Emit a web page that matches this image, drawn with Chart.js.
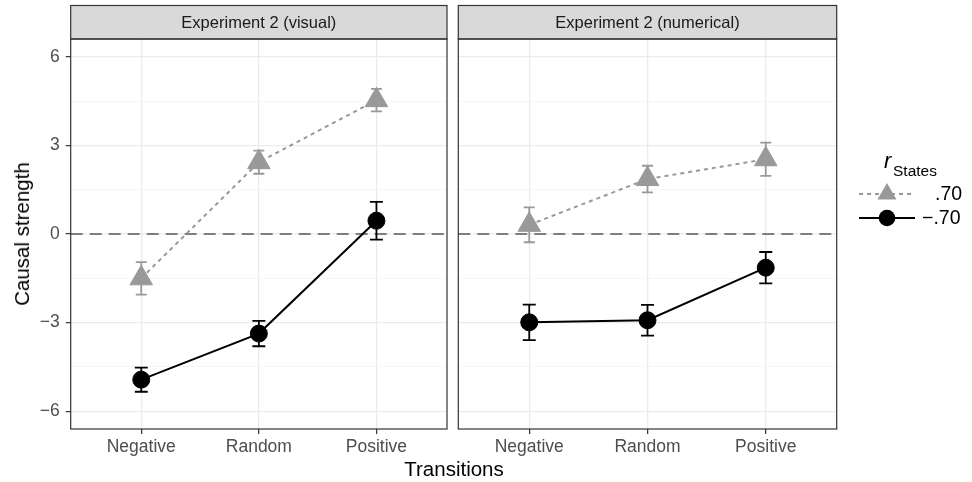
<!DOCTYPE html>
<html>
<head>
<meta charset="utf-8">
<script src="https://cdn.jsdelivr.net/npm/chart.js@4.4.1/dist/chart.umd.min.js"></script>
<style>
  body { margin: 0; background: #fff; font-family: "Liberation Sans", Arial, sans-serif; }
  #wrap { position: relative; width: 972px; height: 482px; overflow: hidden; }
  .box { position: absolute; top: 0; height: 482px; }
  #leftBox { left: 0; width: 452px; }
  #rightBox { left: 452px; width: 520px; }
  #xTitle { position: absolute; left: 354px; width: 200px; top: 457px; text-align: center; font-size: 20.5px; color: #000; }
  #yTitle { position: absolute; left: 22px; top: 234px; transform: translate(-50%, -50%) rotate(-90deg); font-size: 20.5px; color: #000; white-space: nowrap; }
</style>
</head>
<body>
<div id="wrap">
  <div class="box" id="leftBox"><canvas id="visualChart"></canvas></div>
  <div class="box" id="rightBox"><canvas id="numericalChart"></canvas></div>
  <div id="xTitle">Transitions</div>
  <div id="yTitle">Causal strength</div>
</div>
<script>
// categories and panels
const transitions = ['Negative', 'Random', 'Positive'];
const panelTitles = ['Experiment 2 (visual)', 'Experiment 2 (numerical)'];
const seriesLabels = ['.70', '\u2212.70'];

// Experiment 2 (visual)
const visualPos = [-1.50, 2.43, 4.53];
const visualPosErr = [0.55, 0.39, 0.38];
const visualNeg = [-4.93, -3.37, 0.45];
const visualNegErr = [0.41, 0.43, 0.64];

// Experiment 2 (numerical)
const numericalPos = [0.31, 1.86, 2.53];
const numericalPosErr = [0.59, 0.45, 0.56];
const numericalNeg = [-2.99, -2.92, -1.14];
const numericalNegErr = [0.60, 0.52, 0.53];

// axis ticks
const yMajor = [-6, -3, 0, 3, 6];
const yMinor = [-4.5, -1.5, 1.5, 4.5];

const GRAY = '#999999';
const BLACK = '#000000';
const FONT = '"Liberation Sans", Arial, sans-serif';

function toPoints(values) {
    return values.map((v, i) => ({ x: i, y: v }));
}

// zero line + error bars, under the lines and points
const errorBars = {
    id: 'errorBars',
    beforeDatasetsDraw(chart) {
        const { ctx, scales: { x, y }, chartArea } = chart;
        ctx.save();
        ctx.strokeStyle = '#7f7f7f';
        ctx.lineWidth = 1.8;
        ctx.setLineDash([12, 7]);
        const y0 = y.getPixelForValue(0);
        ctx.beginPath();
        ctx.moveTo(chartArea.left, y0);
        ctx.lineTo(chartArea.right, y0);
        ctx.stroke();
        ctx.setLineDash([]);
        chart.data.datasets.forEach(ds => {
            ctx.strokeStyle = ds.borderColor;
            ctx.lineWidth = 1.8;
            ds.data.forEach((p, i) => {
                const e = ds.errors[i];
                const px = x.getPixelForValue(p.x);
                const top = y.getPixelForValue(p.y + e);
                const bot = y.getPixelForValue(p.y - e);
                const cap = ds.capWidth;
                ctx.beginPath();
                ctx.moveTo(px, top); ctx.lineTo(px, bot);
                ctx.moveTo(px - cap, top); ctx.lineTo(px + cap, top);
                ctx.moveTo(px - cap, bot); ctx.lineTo(px + cap, bot);
                ctx.stroke();
            });
        });
        ctx.restore();
    }
};

// facet strip and panel border
const panelFrame = {
    id: 'panelFrame',
    afterDraw(chart, args, opts) {
        const { ctx, chartArea: a } = chart;
        ctx.save();
        const stripTop = 5.5;
        ctx.fillStyle = '#d9d9d9';
        ctx.fillRect(a.left, stripTop, a.right - a.left, a.top - stripTop);
        ctx.strokeStyle = '#333333';
        ctx.lineWidth = 1.2;
        ctx.strokeRect(a.left, stripTop, a.right - a.left, a.top - stripTop);
        ctx.strokeRect(a.left, a.top, a.right - a.left, a.bottom - a.top);
        ctx.fillStyle = '#1a1a1a';
        ctx.font = '16.5px ' + FONT;
        ctx.textAlign = 'center';
        ctx.textBaseline = 'middle';
        ctx.fillText(opts.title, (a.left + a.right) / 2, (stripTop + a.top) / 2 + 1);
        ctx.restore();
    }
};

// legend on the right
const stateLegend = {
    id: 'stateLegend',
    afterDraw(chart, args, opts) {
        if (!opts.show) return;
        const ctx = chart.ctx;
        const ox = -452;
        ctx.save();
        ctx.fillStyle = '#000';
        ctx.textBaseline = 'alphabetic';
        ctx.textAlign = 'left';
        ctx.font = 'italic 22px ' + FONT;
        ctx.fillText('r', 884 + ox, 168);
        ctx.font = '15.5px ' + FONT;
        ctx.fillText('States', 893 + ox, 176);
        const rows = [
            { y: 194, color: GRAY, dash: [4, 4], style: 'triangle', r: 11, label: seriesLabels[0], tx: 935 },
            { y: 218, color: BLACK, dash: [], style: 'circle', r: 8.3, label: seriesLabels[1], tx: 922 }
        ];
        rows.forEach(row => {
            ctx.strokeStyle = row.color;
            ctx.lineWidth = 2;
            ctx.setLineDash(row.dash);
            ctx.beginPath();
            ctx.moveTo(859 + ox, row.y);
            ctx.lineTo(915 + ox, row.y);
            ctx.stroke();
            ctx.setLineDash([]);
            ctx.fillStyle = row.color;
            Chart.helpers.drawPoint(ctx, { pointStyle: row.style, radius: row.r, borderWidth: 0 }, 887 + ox, row.y);
            ctx.fillStyle = '#000';
            ctx.font = '19.5px ' + FONT;
            ctx.textBaseline = 'middle';
            ctx.fillText(row.label, row.tx + ox, row.y + 1);
        });
        ctx.restore();
    }
};

function makeChart(canvasId, title, posVals, posErr, negVals, negErr, isLeft) {
    const ctx = document.getElementById(canvasId);
    return new Chart(ctx, {
        type: 'line',
        data: {
            datasets: [{
                label: seriesLabels[0],
                data: toPoints(posVals),
                errors: posErr,
                capWidth: 5.5,
                borderColor: GRAY,
                borderWidth: 2,
                borderDash: [4, 4],
                pointStyle: 'triangle',
                pointRadius: 13,
                pointBackgroundColor: GRAY,
                pointBorderColor: GRAY,
                pointBorderWidth: 1,
                tension: 0
            }, {
                label: seriesLabels[1],
                data: toPoints(negVals),
                errors: negErr,
                capWidth: 6.5,
                borderColor: BLACK,
                borderWidth: 2,
                pointStyle: 'circle',
                pointRadius: 8.5,
                pointBackgroundColor: BLACK,
                pointBorderColor: BLACK,
                pointBorderWidth: 1,
                tension: 0
            }]
        },
        options: {
            responsive: true,
            maintainAspectRatio: false,
            animation: false,
            events: [],
            layout: {
                autoPadding: false,
                padding: isLeft ? { top: 39, right: 5, left: 0, bottom: 0 } : { top: 39, right: 135.3, left: 0, bottom: 0 }
            },
            plugins: {
                legend: { display: false },
                tooltip: { enabled: false },
                panelFrame: { title: title },
                stateLegend: { show: !isLeft }
            },
            scales: {
                x: {
                    type: 'linear',
                    min: -0.6,
                    max: 2.6,
                    afterBuildTicks: scale => { scale.ticks = transitions.map((t, i) => ({ value: i })); },
                    afterFit: scale => {
                        scale.height = 53;
                        scale.paddingLeft = 0;
                        scale.paddingRight = 0;
                    },
                    border: { display: false },
                    grid: { color: '#ebebeb', lineWidth: 1.3, drawTicks: true, tickLength: 5, tickColor: '#333333', tickWidth: 1.2 },
                    ticks: {
                        color: '#4d4d4d',
                        padding: 3,
                        font: { size: 17.5, family: FONT },
                        callback: value => transitions[value]
                    }
                },
                y: {
                    min: -6.6,
                    max: 6.6,
                    afterBuildTicks: scale => {
                        scale.ticks = yMajor.concat(yMinor).sort((a, b) => a - b).map(v => ({ value: v }));
                    },
                    afterFit: scale => {
                        scale.width = isLeft ? 70.7 : 6.3;
                        scale.paddingTop = 0;
                        scale.paddingBottom = 0;
                    },
                    border: { display: false },
                    grid: {
                        color: c => yMajor.includes(c.tick.value) ? '#ebebeb' : '#f4f4f4',
                        lineWidth: c => yMajor.includes(c.tick.value) ? 1.3 : 0.8,
                        drawTicks: isLeft,
                        tickLength: 5,
                        tickWidth: 1.2,
                        tickColor: c => yMajor.includes(c.tick.value) ? '#333333' : 'rgba(0,0,0,0)'
                    },
                    ticks: {
                        display: isLeft,
                        color: '#4d4d4d',
                        padding: 6,
                        font: { size: 17.5, family: FONT },
                        callback: value => yMajor.includes(value) ? String(value).replace('-', '\u2212') : ''
                    }
                }
            }
        },
        plugins: [errorBars, panelFrame, stateLegend]
    });
}

document.addEventListener('DOMContentLoaded', function () {
    makeChart('visualChart', panelTitles[0], visualPos, visualPosErr, visualNeg, visualNegErr, true);
    makeChart('numericalChart', panelTitles[1], numericalPos, numericalPosErr, numericalNeg, numericalNegErr, false);
});
</script>
</body>
</html>
